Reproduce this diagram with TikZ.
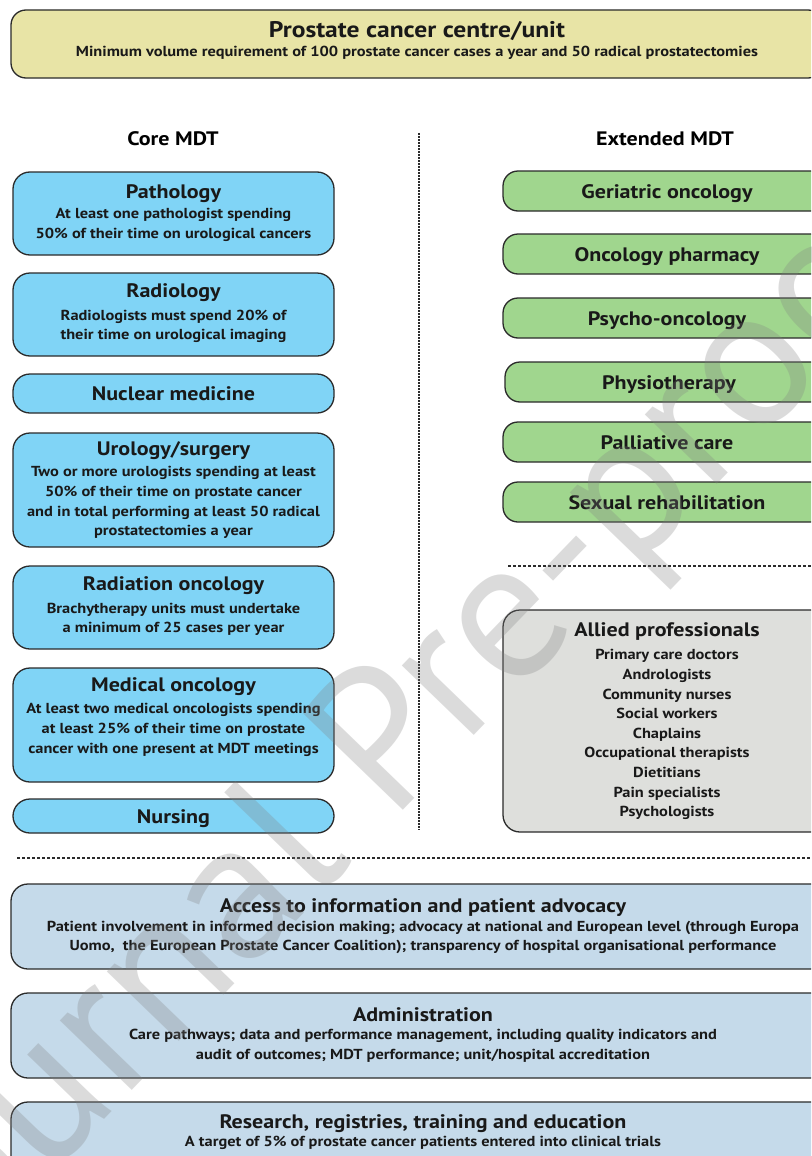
\documentclass[tikz,border=0pt]{standalone}
\usepackage{fontspec}
\setmainfont[FakeStretch=1.13]{PT Sans}
\newfontfamily\wmfont{PT Sans}
\usepackage{xcolor}

\definecolor{unitfill}{HTML}{E8E4A6}
\definecolor{corefill}{HTML}{80D4F6}
\definecolor{extfill}{HTML}{A0D68E}
\definecolor{alliedfill}{HTML}{DEDFDC}
\definecolor{supfill}{HTML}{C5DAEA}
\definecolor{edge}{HTML}{2B2B2B}

\newcommand{\topfont}{\fontsize{22.6}{25}\selectfont\bfseries}
\newcommand{\hdfont}{\fontsize{19.5}{22}\selectfont\bfseries}
\newcommand{\txfont}{\fontsize{14.5}{19.6}\selectfont\bfseries}

\begin{document}
\begin{tikzpicture}[x=1pt,y=-1pt]
   \tikzstyle{box} = [draw=edge,line width=1.3pt,rounded corners=17pt,
     inner sep=0pt,align=center,font=\txfont,text=black!90]
   \tikzstyle{core} = [box,fill=corefill,minimum width=321pt]
   \tikzstyle{one} = [font=\hdfont,text height=14pt,text depth=0pt]
   \tikzstyle{ext} = [box,one,fill=extfill,minimum width=328pt,
     minimum height=40pt,rounded corners=15pt]
   \tikzstyle{sup} = [box,fill=supfill,minimum width=824pt,
     minimum height=85pt]
   \tikzstyle{sep} = [draw=edge,line width=1.3pt]
   \clip (0,0) rectangle (811,1156);
   \fill[white] (0,0) rectangle (811,1156);
    %%
    \node [box,fill=unitfill,minimum width=812pt,minimum height=68pt,
      rounded corners=15pt] (unit) at (417,44)
      {{\topfont Prostate cancer centre/unit}\\[-1pt]
       Minimum volume requirement of 100 prostate cancer cases a year
       and 50 radical prostatectomies\\[-9pt] \mbox{}};
    %%
    \node [font=\hdfont] (coreh) at (173,139) {Core MDT};
    \node [font=\hdfont] (exth) at (665,139) {Extended MDT};
    \coordinate (vtop) at (419,133); \coordinate (vbot) at (419,830);
    \draw [sep,dash pattern=on 2pt off 1pt] (vtop) -- (vbot);
    %%
    \begin{scope}
      \node [core,minimum height=83pt] (path) at (173.5,213.5)
        {{\hdfont Pathology}\\[1pt] At least one pathologist spending\\
         50\% of their time on urological cancers\\[-15pt] \mbox{}};
      \node [core,minimum height=83pt] (radio) at (173.5,314.5)
        {{\hdfont Radiology}\\[3pt] Radiologists must spend 20\% of\\
         their time on urological imaging\\[-14pt] \mbox{}};
      \node [core,one,minimum height=39pt] (nucl) at (173.5,393.5)
        {Nuclear medicine};
      \node [core,minimum height=114pt] (uro) at (173.5,490)
        {{\hdfont Urology/surgery}\\[2pt]
         Two or more urologists spending at least\\
         50\% of their time on prostate cancer\\
         and in total performing at least 50 radical\\
         prostatectomies a year};
      \node [core,minimum height=83pt] (radonc) at (173.5,607.5)
        {{\hdfont Radiation oncology}\\[3pt]
         Brachytherapy units must undertake\\
         a minimum of 25 cases per year\\[-14pt] \mbox{}};
      \node [core,minimum height=114pt] (medonc) at (173.5,725)
        {{\hdfont Medical oncology}\\[3pt]
         At least two medical oncologists spending\\
         at least 25\% of their time on prostate\\
         cancer with one present at MDT meetings\\ \mbox{}};
      \node [core,one,minimum height=34pt] (nurse) at (173.5,816)
        {Nursing};
    \end{scope}
    %%
    \begin{scope}
      \node [ext] (geri) at (667,191) {Geriatric oncology};
      \node [ext] (pharm) at (667,254) {Oncology pharmacy};
      \node [ext] (psycho) at (667,318) {Psycho-oncology};
      \node [ext] (physio) at (669,382) {Physiotherapy};
      \node [ext] (pall) at (667,442) {Palliative care};
      \node [ext] (sexual) at (667,502) {Sexual rehabilitation};
      \coordinate (hl) at (508,566); \coordinate (hr) at (811,566);
      \draw [sep,dash pattern=on 3pt off 2pt] (hl) -- (hr);
      \node [box,fill=alliedfill,minimum width=328pt,minimum height=222pt]
        (allied) at (667,721)
        {{\hdfont Allied professionals}\\[4pt]
         Primary care doctors\\ Andrologists\\ Community nurses\\
         Social workers\\ Chaplains\\ Occupational therapists\\
         Dietitians\\ Pain specialists\\ Psychologists};
    \end{scope}
    %%
    \coordinate (fl) at (17,858); \coordinate (fr) at (811,858);
    \draw [sep,dash pattern=on 3pt off 2pt] (fl) -- (fr);
    \begin{scope}
      \node [sup] (access) at (423,926.5)
        {{\hdfont Access to information and patient advocacy}\\[-1pt]
         Patient involvement in informed decision making; advocacy at
         national and European level (through Europa\\
         Uomo,\ \ the European Prostate Cancer Coalition); transparency
         of hospital organisational performance};
      \node [sup] (admin) at (423,1035.5)
        {{\hdfont Administration}\\[-1pt]
         Care pathways; data and performance management, including
         quality indicators and\\
         audit of outcomes; MDT performance; unit/hospital accreditation%
         \\[-15pt] \mbox{}};
      \node [sup] (research) at (423,1144.5)
        {{\hdfont Research, registries, training and education}\\[-1pt]
         A target of 5\% of prostate cancer patients entered into
         clinical trials\\[8pt] \mbox{}};
    \end{scope}
    %%
    \node [rotate=46,text=gray,text opacity=0.28,
      font=\wmfont\fontsize{200}{200}\selectfont] (wmark) at (402,738)
      {Journal Pre-proof};
  \end{tikzpicture}
\end{document}
